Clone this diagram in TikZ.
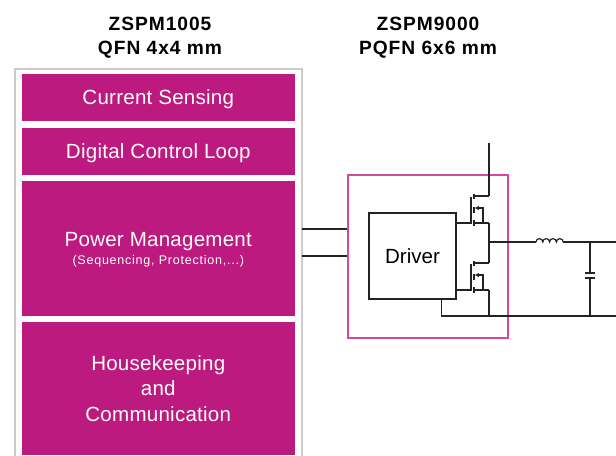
\documentclass[tikz,border=0pt]{standalone}
\usepackage{fontspec}
\setmainfont{Liberation Sans}
\newfontfamily\ttlfont[LetterSpace=5]{Liberation Sans}
\newfontfamily\blkfont[LetterSpace=1.2]{Liberation Sans}
\newfontfamily\smallfont[LetterSpace=6]{Liberation Sans}
\usetikzlibrary{arrows.meta}
\definecolor{blockfill}{RGB}{188,26,126}
\definecolor{pinkline}{RGB}{214,72,158}
\definecolor{greyline}{RGB}{204,204,204}
\definecolor{wire}{RGB}{35,35,35}
\tikzset{
  block/.style={fill=blockfill,text=white,inner sep=0pt,minimum width=273.5*0.75pt,font=\blkfont\fontsize{15.4}{15.4}\selectfont,align=center,text depth=0pt},
  title/.style={inner sep=0pt,font=\ttlfont\fontsize{14.4}{14.4}\selectfont\bfseries,text=black},
  wireline/.style={draw=wire,line width=0.9pt},
}
\begin{document}
\begin{tikzpicture}[x=0.75pt,y=0.75pt,yscale=-1,xscale=1]
\clip (0,0) rectangle (616,455);
\node [title] (ttlA) at (160,24) {ZSPM1005};
\node [title] (ttlB) at (160,50) {QFN 4x4 mm};
\node [title] (ttlC) at (428,24) {ZSPM9000};
\node [title] (ttlD) at (428,50) {PQFN 6x6 mm};
% left package
\draw [greyline,line width=0.9pt] (15,470) -- (15,69) -- (302,69) -- (302,470);
\node [block,minimum height=47*0.75pt] (sense) at (158.25,97.5) {Current Sensing};
\node [block,minimum height=47*0.75pt] (loop) at (158.25,151.5) {Digital Control Loop};
\node [block,minimum height=135*0.75pt] (power) at (158.25,248.5) {Power Management\\[-2.2pt]{\smallfont\fontsize{9.4}{9.4}\selectfont (Sequencing, Protection,...)}};
\node [block,minimum height=133*0.75pt] (house) at (158.25,388.5) {Housekeeping\\[4pt]and\\[4pt]Communication};
% right package
\node [draw=pinkline,line width=0.9pt,minimum width=160*0.75pt,minimum height=163*0.75pt,inner sep=0pt] (pkg) at (428,256.5) {};
\node [wireline,minimum width=87*0.75pt,minimum height=86*0.75pt,inner sep=0pt,font=\fontsize{15.4}{15.4}\selectfont] (driver) at (412.5,256) {Driver};
\coordinate (inA) at (302,229);
\coordinate (inB) at (302,256);
\draw [wireline] (inA) -- (inA -| pkg.west);
\draw [wireline] (inB) -- (inB -| pkg.west);
% transistors
\foreach \q/\yd in {hi/196,lo/263}{
  \coordinate (\q d) at (489,\yd);
  \coordinate (\q s) at (489,\yd+27);
  \coordinate (\q b) at (483,\yd+27);
  \draw [wireline] (\q d) -- (474,\yd);
  \draw [wireline] (driver.east |- \q s) -- (471,\yd+27) -- (471,\yd+1);
  \draw [wireline] (\q s) -- (474,\yd+27);
  \draw [wireline,line width=1pt] (474,\yd-2) -- (474,\yd+3) (474,\yd+11) -- (474,\yd+17) (474,\yd+24) -- (474,\yd+30);
  \draw [wireline,-{Latex[length=3.2pt,width=3.2pt]}] (\q b) -- (483,\yd+12) -- (474.5,\yd+12);
}
\coordinate (top) at (489,143);
\coordinate (out) at (489,242);
\coordinate (indL) at (536,242);
\coordinate (indR) at (563,242);
\coordinate (outR) at (616,242);
\coordinate (capT) at (590,273);
\coordinate (capB) at (590,278);
\coordinate (rail) at (616,316);
\draw [wireline] (top) -- (hid);
\draw [wireline] (his) -- (lod);
\draw [wireline] (los) -- (los |- rail);
\draw [wireline] (out) -- (indL);
\draw [wireline] (indL) arc[start angle=180,end angle=360,radius=3.4] arc[start angle=180,end angle=360,radius=3.4] arc[start angle=180,end angle=360,radius=3.4] arc[start angle=180,end angle=360,radius=3.4];
\draw [wireline] (indR) -- (outR);
\draw [wireline] (capT |- outR) -- (capT);
\draw [wireline] (585,273) -- (595,273) (585,278) -- (595,278);
\draw [wireline] (capB) -- (capB |- rail);
\draw [wireline] (driver.south -| 441.5,0) -- (441.5,316) -- (rail);
\end{tikzpicture}
\end{document}
